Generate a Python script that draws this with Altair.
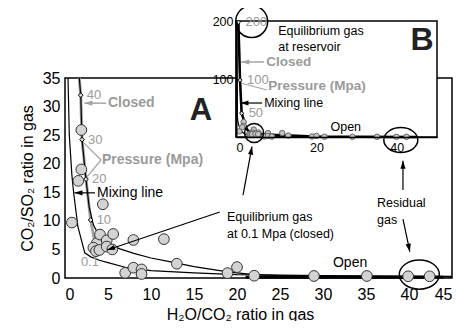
import altair as alt
import pandas as pd

FONT = "Liberation Sans"
GRAY = "#9a9a9a"
LGRAY = "#a3a3a3"

# ---------------- data ----------------
# measured gas samples: H2O/CO2 and CO2/SO2
samp_h2o_co2 = [1.9, 1.9, 1.55, 0.8, 4.4, 3.7, 4.07, 4.85, 5.6, 3.3, 3.6, 4.0,
                4.85, 5.5, 7.95, 11.5, 13.0, 7.0, 7.95, 8.9, 8.9, 18.9, 20.0,
                22.0, 28.95, 35.1, 39.9, 42.4]
samp_co2_so2 = [25.9, 19.0, 17.0, 9.7, 12.9, 6.1, 7.6, 6.6, 7.7, 5.3, 4.7, 4.9,
                5.5, 5.0, 6.65, 6.8, 2.5, 0.9, 1.8, 1.5, 0.7, 0.85, 1.9,
                0.4, 0.35, 0.35, 0.3, 0.3]

# closed-system degassing path, labelled by pressure (MPa)
closed_p = ["200", "100", "50", "40", "30", "20", "10", "0.1"]
closed_x = [0.6, 1.0, 1.4, 1.83, 1.98, 2.44, 2.98, 3.6]
closed_y = [198, 98, 41, 32, 24.2, 17.3, 10.15, 5.2]
closed_top_x = 1.66  # where it leaves panel A at the top

# open-system degassing path
open_x = [0.6, 1.0, 1.4, 1.83, 1.98, 2.44, 2.8, 3.3, 4.0, 5.0, 6.4, 8.0, 10,
          12, 15, 18, 20, 22, 25, 30, 45]
open_y = [198, 98, 41, 32, 24.2, 17.3, 12.5, 9.3, 7.3, 6.0, 5.1, 4.3, 3.5,
          2.9, 2.0, 1.3, 0.9, 0.6, 0.4, 0.3, 0.2]
open_top_x = 1.66
open_tail_x = [21, 44]
open_tail_y = [0.12, 0.12]

# mixing line
mix_x = [0.2, 0.3, 0.35, 0.5, 0.8, 1.0, 1.5, 2.3, 3.0, 4.0, 5.0, 7.2, 10, 15,
         20, 30, 45]
mix_y = [200, 100, 35, 25, 18, 15, 9, 4.4, 3.7, 3.1, 2.7, 1.8, 1.3, 0.9, 0.6,
         0.4, 0.3]
mix_top_x = 0.35

A_X = [0, 45]
A_Y = [0, 35]
B_X = [0, 50]
B_Y = [0, 200]

# panel A annotations (text, x, y)
a_gray_bold = [("Closed", 5.0, 30.6), ("Pressure (Mpa)", 4.3, 20.65)]
a_black = [("Mixing line", 3.72, 14.9), ("Open", 31.16, 2.63)]
a_small = [("Equilibrium gas", 18.84, 10.68), ("at 0.1 Mpa (closed)", 18.84, 7.7),
           ("Residual", 36.28, 13.1), ("gas", 36.28, 10.15)]
a_letter = [("A", 15.8, 27.6)]
a_p01 = [("0.1", 2.9, 2.8)]
# arrows: x1, y1, x2 (head), y2 (head), head angle
a_arrows_gray = [(4.77, 30.6, 2.25, 30.6, 270)]
a_arrows_black = [(3.49, 14.9, 1.1, 14.9, 270),
                  (18.0, 11.55, 4.9, 4.9, 251),
                  (20.7, 14.5, 21.74, 23.0, 10),
                  (39.3, 10.3, 40.1, 4.6, 168),
                  (39.3, 15.4, 39.3, 20.5, 0)]
a_bracket = [(4.19, 20.65, 2.21, 23.6), (4.19, 20.65, 2.56, 17.7)]
a_ellipse = [(41.2, 0.6)]

# panel B annotations
b_gray_bold = [("Closed", 7.5, 129.3), ("Pressure (Mpa)", 8.0, 88)]
b_black = [("Mixing line", 7.0, 58.6), ("Open", 23.5, 17.2),
           ("Equilibrium gas", 10.5, 182.8), ("at reservoir", 10.5, 155)]
b_letter = [("B", 46.25, 150)]
b_arrows_gray = [(7.0, 129.3, 1.3, 129.3, 270)]
b_arrows_black = [(6.5, 58.6, 1.1, 58.6, 270)]
b_pline = [(7.7, 81, 1.4, 92.6)]
b_circles = [(3.9, 199, 1024), (4.5, 6.9, 361)]
b_ellipse = [(41.0, -5.2)]

# ---------------- scales / axes ----------------
sxA = alt.Scale(domain=A_X, range=[0, 387], nice=False, zero=False)
syA = alt.Scale(domain=A_Y, range=[257, 57], nice=False, zero=False)
sxB = alt.Scale(domain=B_X, range=[171, 372], nice=False, zero=False)
syB = alt.Scale(domain=B_Y, range=[116, 0], nice=False, zero=False)

axXA = alt.Axis(values=list(range(0, 50, 5)), title="H₂O/CO₂ ratio in gas",
                grid=False, domain=False, ticks=False, labelFont=FONT,
                labelFontSize=16, labelPadding=8, labelColor="black",
                titleFont=FONT, titleFontSize=16, titleFontWeight="normal",
                titleColor="black", titleX=175, titleY=41,
                titleBaseline="alphabetic", titleAlign="center", orient="bottom")
axYA = alt.Axis(values=list(range(0, 40, 5)), title="CO₂/SO₂ ratio in gas",
                grid=False, domain=False, ticks=False, labelFont=FONT,
                labelFontSize=16, labelPadding=5, labelColor="black",
                titleFont=FONT, titleFontSize=16, titleFontWeight="normal",
                titleColor="black", titleX=-33, titleY=157, titleAngle=270,
                titleBaseline="alphabetic", titleAlign="center", orient="left")
axXB = alt.Axis(values=[0, 20, 40], title=None, grid=False, domain=True,
                domainColor="black", domainWidth=1.5, ticks=False,
                labelFont=FONT, labelFontSize=12.5, labelPadding=4,
                labelColor="black", orient="bottom", offset=-141, zindex=1)
axYB = alt.Axis(values=[100, 200], title=None, grid=False, domain=True,
                domainColor="black", domainWidth=2, ticks=False,
                labelFont=FONT, labelFontSize=12.5, labelPadding=3,
                labelColor="black", orient="left", offset=-171, zindex=1)

ARROW = "M0,0 L0.65,2 L-0.65,2 Z"
K = 0.73
C = 0.5523
ELLIPSE = (f"M1,0 C1,{C*K:.3f} {C},{K} 0,{K} C-{C},{K} -1,{C*K:.3f} -1,0 "
           f"C-1,-{C*K:.3f} -{C},-{K} 0,-{K} C{C},-{K} 1,-{C*K:.3f} 1,0 Z")


def XY(panel):
    if panel == "A":
        return dict(x=alt.X("x:Q", scale=sxA, axis=axXA),
                    y=alt.Y("y:Q", scale=syA, axis=axYA))
    return dict(x=alt.X("x:Q", scale=sxB, axis=axXB),
                y=alt.Y("y:Q", scale=syB, axis=axYB))


def line_layer(panel, xs, ys, **style):
    df = pd.DataFrame({"x": xs, "y": ys, "i": list(range(len(xs)))})
    return alt.Chart(df).mark_line(**style).encode(order=alt.Order("i:Q"), **XY(panel))


def a_part(xs, ys, top_x):
    px = [top_x] + [x for x, y in zip(xs, ys) if y < A_Y[1]]
    py = [A_Y[1]] + [y for y in ys if y < A_Y[1]]
    return px, py


def text_layer(panel, rows, **style):
    df = pd.DataFrame(rows, columns=["t", "x", "y"])
    base = dict(font=FONT, align="left", baseline="middle", color="black")
    base.update(style)
    return alt.Chart(df).mark_text(**base).encode(text="t:N", **XY(panel))


def seg_layer(panel, rows, color, width=1.2):
    df = pd.DataFrame([r[:4] for r in rows], columns=["x", "y", "x2", "y2"])
    return alt.Chart(df).mark_rule(color=color, strokeWidth=width).encode(
        x2="x2:Q", y2="y2:Q", **XY(panel))


def head_layer(panel, rows, color):
    df = pd.DataFrame([(r[2], r[3], r[4]) for r in rows], columns=["x", "y", "a"])
    return alt.Chart(df).mark_point(shape=ARROW, filled=True, size=64,
                                    color=color, opacity=1).encode(
        angle=alt.Angle("a:Q", scale=None), **XY(panel))


def frame_layer(panel, xd, yd, **style):
    df = pd.DataFrame({"x": [xd[0]], "x2": [xd[1]], "y": [yd[0]], "y2": [yd[1]]})
    return alt.Chart(df).mark_rect(**style).encode(x2="x2:Q", y2="y2:Q", **XY(panel))


samples = pd.DataFrame({"x": samp_h2o_co2, "y": samp_co2_so2})
press = pd.DataFrame({"x": closed_x, "y": closed_y, "p": closed_p})
pressA = press[(press.y < A_Y[1]) & (press.p != "0.1")]
pressB = press[press.p.isin(["200", "100", "50"])]

cAx, cAy = a_part(closed_x, closed_y, closed_top_x)
oAx, oAy = a_part(open_x, open_y, open_top_x)
mAx, mAy = a_part(mix_x, mix_y, mix_top_x)

layerA = alt.layer(
    frame_layer("A", A_X, A_Y, fillOpacity=0, stroke="black", strokeWidth=1.5),
    line_layer("A", cAx, cAy, color=LGRAY, strokeWidth=3),
    line_layer("A", mAx, mAy, color="black", strokeWidth=1.2),
    line_layer("A", oAx, oAy, color="black", strokeWidth=1.2),
    line_layer("A", open_tail_x, open_tail_y, color="black", strokeWidth=3),
    alt.Chart(pressA).mark_point(shape="diamond", filled=True, size=22,
                                 fill="#dddddd", stroke="black", strokeWidth=1,
                                 opacity=1).encode(**XY("A")),
    alt.Chart(pressA).mark_text(font=FONT, fontSize=13, color=GRAY, align="left",
                                baseline="middle", dx=6).encode(text="p:N", **XY("A")),
    text_layer("A", a_p01, fontSize=13, color=GRAY, align="center"),
    alt.Chart(samples).mark_point(shape="circle", filled=True, size=115,
                                  fill="#d3d3d3", stroke="#333333",
                                  strokeWidth=1, opacity=1).encode(**XY("A")),
    text_layer("A", a_gray_bold, fontSize=14, fontWeight="bold", color=GRAY),
    text_layer("A", a_black, fontSize=14),
    text_layer("A", a_small, fontSize=12.5),
    text_layer("A", a_letter, fontSize=31, fontWeight="bold", align="center",
               baseline="alphabetic", color="#222222"),
    seg_layer("A", a_arrows_gray, LGRAY, 1.5),
    head_layer("A", a_arrows_gray, LGRAY),
    seg_layer("A", a_arrows_black, "black", 1.2),
    head_layer("A", a_arrows_black, "black"),
    seg_layer("A", a_bracket, LGRAY, 1.2),
    alt.Chart(pd.DataFrame(a_ellipse, columns=["x", "y"])).mark_point(
        shape=ELLIPSE, filled=False, size=1600, color="black", strokeWidth=1.5,
        opacity=1).encode(**XY("A")),
)

layerB = alt.layer(
    frame_layer("B", B_X, B_Y, fill="white", stroke="black", strokeWidth=1.5),
    line_layer("B", closed_x, closed_y, color=LGRAY, strokeWidth=2),
    line_layer("B", mix_x, mix_y, color="black", strokeWidth=1.2),
    line_layer("B", open_x, open_y, color="black", strokeWidth=2.5),
    alt.Chart(samples).mark_point(shape="circle", filled=True, size=30,
                                  fill="#c4c4c4", stroke="#666666",
                                  strokeWidth=1, opacity=1).encode(**XY("B")),
    alt.Chart(pressB).mark_point(shape="diamond", filled=True, size=18,
                                 fill="#dddddd", stroke="black", strokeWidth=1,
                                 opacity=1).encode(**XY("B")),
    alt.Chart(pressB).mark_text(font=FONT, fontSize=13, color=GRAY, align="left",
                                baseline="middle", dx=7).encode(text="p:N", **XY("B")),
    text_layer("B", b_gray_bold, fontSize=13.5, fontWeight="bold", color=GRAY),
    text_layer("B", b_black, fontSize=12.5),
    text_layer("B", b_letter, fontSize=32, fontWeight="bold", align="center",
               baseline="alphabetic", color="#222222"),
    seg_layer("B", b_arrows_gray, LGRAY, 1.5),
    head_layer("B", b_arrows_gray, LGRAY),
    seg_layer("B", b_arrows_black, "black", 1.2),
    head_layer("B", b_arrows_black, "black"),
    seg_layer("B", b_pline, LGRAY, 1.2),
    alt.Chart(pd.DataFrame(b_circles, columns=["x", "y", "s"])).mark_point(
        shape="circle", filled=False, color="black", strokeWidth=1.5,
        opacity=1).encode(size=alt.Size("s:Q", scale=None), **XY("B")),
    alt.Chart(pd.DataFrame(b_ellipse, columns=["x", "y"])).mark_point(
        shape=ELLIPSE, filled=False, size=1156, color="black", strokeWidth=1.5,
        opacity=1).encode(**XY("B")),
)

chart = alt.layer(layerA, layerB).resolve_scale(
    x="independent", y="independent"
).properties(
    width=387, height=257,
    padding={"left": 57, "top": 13, "right": 2, "bottom": 43},
    autosize=alt.AutoSizeParams(type="none"),
    background="white",
).configure_view(stroke=None)

chart.save("out.html", embed_options={"renderer": "svg", "actions": False})
